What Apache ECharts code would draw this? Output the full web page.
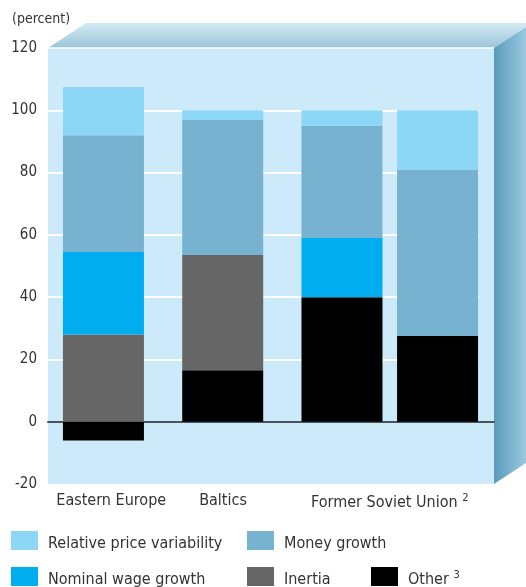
<!DOCTYPE html>
<html><head><meta charset="utf-8">
<script src="https://cdn.jsdelivr.net/npm/echarts@6/dist/echarts.min.js"></script>
<style>html,body{margin:0;padding:0;background:#fff}#c{width:526px;height:587px}</style>
</head><body><div id="c"></div>
<script>
// ---- data ----
const categories = ['Eastern Europe', 'Baltics', 'Former Soviet Union'];
const yMin = -20, yMax = 120, yInterval = 20;
// first bar of each category (stack "a"), bottom to top
const otherA    = [-6, 16.5, 40];
const inertiaA  = [28, 37, null];
const nominalA  = [26.5, null, 19];
const moneyA    = [37.5, 43.5, 36];
const relPriceA = [15.5, 3, 5];
// second bar, Former Soviet Union only (stack "b")
const otherB    = [null, null, 27.5];
const moneyB    = [null, null, 53.5];
const relPriceB = [null, null, 19];

const names = {
  rel: 'Relative price variability', money: 'Money growth',
  nominal: 'Nominal wage growth', inertia: 'Inertia', other: 'Other'
};
const colors = {
  rel: '#8cd7f6', money: '#77b3d0', nominal: '#00aeef', inertia: '#666666', other: '#000000'
};
const FF = '"DejaVu Sans Condensed","Liberation Sans Narrow",sans-serif';
const TXT = '#333333';

const chart = echarts.init(document.getElementById('c'), null, {renderer: 'canvas'});

function bar(key, stack, data) {
  return {
    type: 'bar', name: names[key], stack: stack, data: data,
    xAxisIndex: 2, yAxisIndex: 2,
    barWidth: 81, barGap: '18%', clip: false,
    itemStyle: {color: colors[key]},
    emphasis: {disabled: true}
  };
}

const sup = {s: {fontSize: 11, padding: [0, 0, 8, 0], color: TXT, fontFamily: FF}};
const xRich = Object.assign({
  ee: {padding: [0, 80, 0, 0], fontSize: 16, color: TXT, fontFamily: FF},
  bal: {padding: [0, 95, 0, 0], fontSize: 16, color: TXT, fontFamily: FF},
  n: {fontSize: 16, color: TXT, fontFamily: FF}
}, sup);

function legendItem(name, left, top) {
  return {
    data: [name], left: left, top: top, padding: 0,
    itemWidth: 27, itemHeight: 19, icon: 'rect', selectedMode: false,
    textStyle: {fontSize: 16, color: TXT, fontFamily: FF, padding: [6, 0, 0, 5],
      rich: {n: {fontSize: 16, color: TXT, fontFamily: FF}, s: {fontSize: 11, padding: [0, 0, 8, 0], color: TXT, fontFamily: FF}}},
    formatter: n => n === names.other ? '{n|Other }{s|3}' : n
  };
}

const yBase = {type: 'value', min: yMin, max: yMax, interval: yInterval};
const gridLineColors = [], topLineColors = [];
for (let v = yMin; v <= yMax; v += yInterval) {
  gridLineColors.push(v === yMin || v === yMax ? 'rgba(0,0,0,0)' : '#ffffff');
  topLineColors.push(v === yMax ? '#ffffff' : 'rgba(0,0,0,0)');
}

const option = {
  animation: false,
  textStyle: {fontFamily: FF},
  title: {text: '(percent)', left: 12, top: 12, padding: 0,
    textStyle: {fontSize: 14, fontWeight: 'normal', color: TXT, fontFamily: FF}},
  graphic: [
    {type: 'polygon', shape: {points: [[48, 48], [86, 23], [532, 23], [494, 48]]},
      style: {fill: new echarts.graphic.LinearGradient(0, 0, 0, 1, [
        {offset: 0, color: '#d4ebf4'}, {offset: 1, color: '#9bc3d8'}])}},
    {type: 'polygon', shape: {points: [[494, 48], [532, 23], [532, 459], [494, 484]]},
      style: {fill: new echarts.graphic.LinearGradient(0, 0, 1, 0, [
        {offset: 0, color: '#5a9cbb'}, {offset: 1, color: '#a6d1e6'}])}}
  ],
  grid: [
    {left: 48, right: 32, top: 48, bottom: 103, show: true, backgroundColor: '#cceaf9', borderWidth: 0},
    {left: 48, right: 47, top: 48, bottom: 103},
    {left: 91.6, right: 76.6, top: 48, bottom: 103}
  ],
  xAxis: [
    {gridIndex: 0, type: 'category', data: [''],
      axisLine: {onZero: true, lineStyle: {color: '#4a545c', width: 2}},
      axisTick: {show: false}, axisLabel: {show: false}, splitLine: {show: false}},
    {gridIndex: 1, type: 'category', data: [''], show: false},
    {gridIndex: 2, type: 'category', data: categories,
      axisLine: {show: false, onZero: false}, axisTick: {show: false},
      axisLabel: {interval: 0, hideOverlap: false, margin: 9, fontSize: 16, color: TXT, fontFamily: FF, rich: xRich,
        formatter: v => v === 'Eastern Europe' ? '{ee|' + v + '}'
          : v === 'Baltics' ? '{bal|' + v + '}'
          : '{n|' + v + ' }{s|2}'}}
  ],
  yAxis: [
    Object.assign({gridIndex: 0,
      axisLabel: {fontSize: 15, color: TXT, margin: 11, fontFamily: FF},
      axisLine: {show: false}, axisTick: {show: false},
      splitLine: {show: true, lineStyle: {color: topLineColors, width: 1.5}}}, yBase),
    Object.assign({gridIndex: 1,
      axisLabel: {show: false}, axisLine: {show: false}, axisTick: {show: false},
      splitLine: {show: true, lineStyle: {color: gridLineColors, width: 2}}}, yBase),
    Object.assign({gridIndex: 2, show: false, splitLine: {show: false}}, yBase)
  ],
  legend: [
    legendItem(names.rel, 11, 531),
    legendItem(names.money, 247, 531),
    legendItem(names.nominal, 11, 567),
    legendItem(names.inertia, 247, 567),
    legendItem(names.other, 371, 567)
  ],
  series: [
    bar('other', 'a', otherA),
    bar('inertia', 'a', inertiaA),
    bar('nominal', 'a', nominalA),
    bar('money', 'a', moneyA),
    bar('rel', 'a', relPriceA),
    bar('other', 'b', otherB),
    bar('money', 'b', moneyB),
    bar('rel', 'b', relPriceB)
  ]
};
chart.setOption(option);
</script>
</body></html>
